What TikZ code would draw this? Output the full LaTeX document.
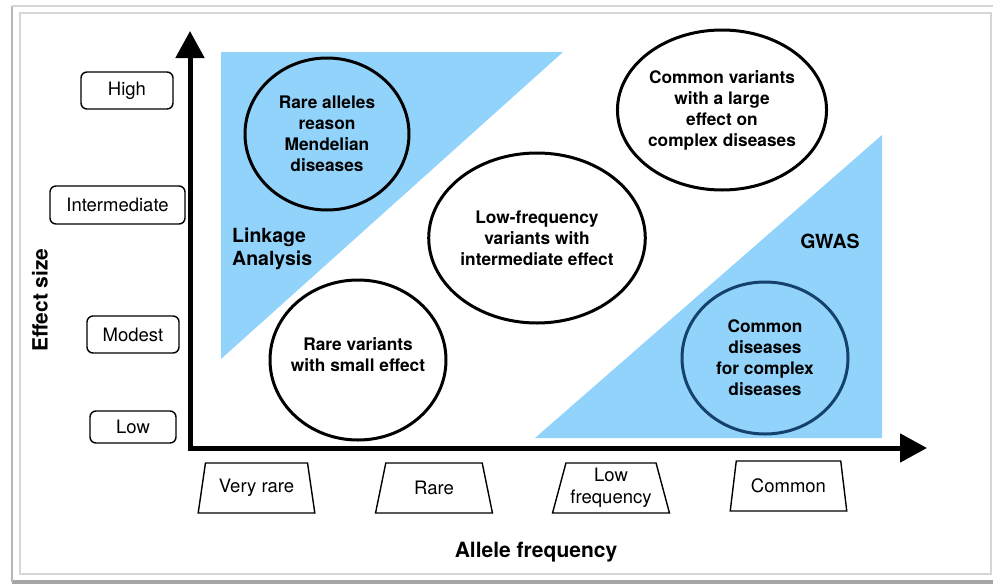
\documentclass[tikz,border=0pt]{standalone}
\usepackage{fontspec}
\setmainfont{TeX Gyre Heros}
\usetikzlibrary{shapes.geometric,arrows.meta}
\definecolor{skyfill}{RGB}{146,211,251}
\definecolor{navyedge}{RGB}{20,65,110}
\definecolor{framegray}{RGB}{214,214,214}
\definecolor{shadowgray}{RGB}{165,165,165}
\begin{document}
\begin{tikzpicture}[x=1pt,y=-1pt,
  lvl/.style={draw, line width=1.4pt, rounded corners=6pt, inner sep=0pt, font=\fontsize{18.5}{22}\selectfont},
  freqbox/.style={draw, trapezium, trapezium angle=73, trapezium stretches=true, line width=1.4pt, minimum width=117pt, minimum height=50pt, inner sep=0pt, align=center, font=\fontsize{18.5}{22}\selectfont},
  blob/.style={ellipse, draw, line width=3pt, inner sep=0pt},
  blobtext/.style={align=center, font=\bfseries\fontsize{17.3}{21}\selectfont, inner sep=0pt},
  regiontext/.style={align=left, font=\bfseries\fontsize{19.5}{23}\selectfont, inner sep=0pt},
  title/.style={font=\bfseries\fontsize{21}{24}\selectfont, inner sep=0pt},
  axis/.style={line width=5pt, line join=miter, {Triangle[width=28pt,length=27pt]}-{Triangle[width=28pt,length=27pt]}}
]
\useasboundingbox (0,0) rectangle (993,584);
% frame
\fill[shadowgray] (12,580) rectangle (993,584);
\draw[framegray!85!black, line width=1.5pt] (12,6) -- (12,582);
\draw[framegray, line width=1.2pt] (12,6) -- (993,6);
\draw[framegray, line width=1.2pt] (20,13) rectangle (991,574);

% shaded regions
\fill[skyfill] (221,52) -- (563,52) -- (221,359) -- cycle;
\fill[skyfill] (535,438) -- (882,438) -- (882,135) -- cycle;

% axes
\coordinate (origin) at (190,448);
\coordinate (ytip) at (190,31);
\coordinate (xtip) at (927,448);
\draw[axis] (ytip) -- (origin) -- (xtip);

% ellipses
\node[blob, blobtext, fill=skyfill, minimum width=164pt, minimum height=152pt] (mendel) at (327,134) {Rare alleles\\reason\\Mendelian\\diseases};
\node[blob, minimum width=176pt, minimum height=160pt] (smallfx) at (358,360) {};
\node[blobtext] (smallfxtext) at (358,355) {Rare variants\\with small effect};
\node[blob, blobtext, minimum width=188pt, minimum height=170pt] (interfx) at (537,238) {Low-frequency\\variants with\\intermediate effect};
\node[blob, blobtext, minimum width=194pt, minimum height=160pt] (largefx) at (722,110) {Common variants\\with a large\\effect on\\complex diseases};
\node[blob, blobtext, draw=navyedge, fill=skyfill, minimum width=166pt, minimum height=152pt] (complexdis) at (765,358) {Common\\diseases\\for complex\\diseases};

% region labels
\node[regiontext, anchor=west] (linkage) at (232,248.5) {Linkage\\Analysis};
\node[regiontext] (gwas) at (830,241.5) {GWAS};

% axis titles
\node[title, rotate=90] (ytitle) at (40,300) {Effect size};
\node[title] (xtitle) at (536,552) {Allele frequency};

% effect levels
\node[lvl, minimum width=92pt, minimum height=37pt] (high) at (127,90.5) {High};
\node[lvl, minimum width=135pt, minimum height=38pt] (intermediate) at (117.5,205) {Intermediate};
\node[lvl, minimum width=92pt, minimum height=37pt] (modest) at (133,334.5) {Modest};
\node[lvl, minimum width=86pt, minimum height=32pt] (low) at (133,427) {Low};

% frequency levels
\node[freqbox] (veryrare) at (256.5,488) {Very rare};
\node[freqbox] (rare) at (434,488) {Rare};
\node[freqbox] (lowfreq) at (611,488) {Low\\frequency};
\node[freqbox] (common) at (788.5,486) {Common};
\end{tikzpicture}
\end{document}
